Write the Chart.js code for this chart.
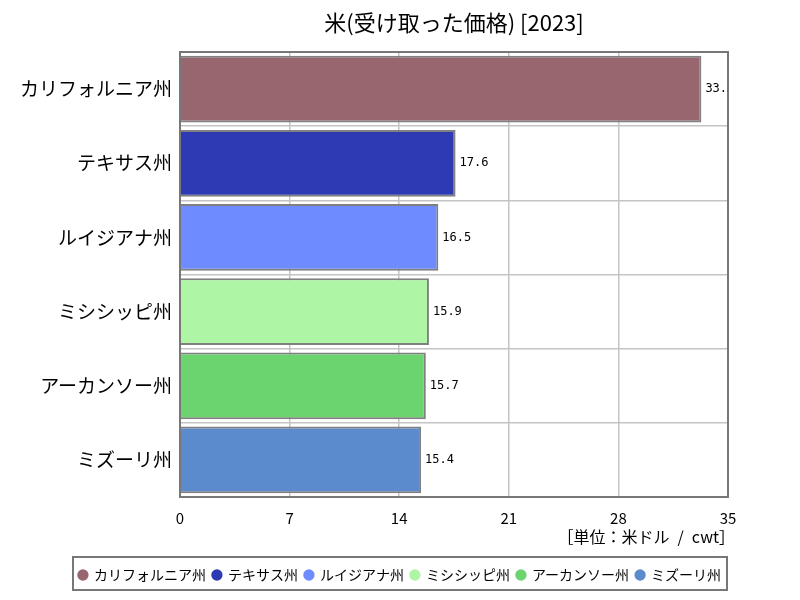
<!DOCTYPE html>
<html>
<head>
<meta charset="utf-8">
<script src="https://cdn.jsdelivr.net/npm/chart.js@4"></script>
<style>
  body { margin: 0; background: #fff; }
  #wrap { width: 800px; height: 600px; }
</style>
</head>
<body>
<div id="wrap"><canvas id="rice"></canvas></div>
<script>
var states = ['カリフォルニア州', 'テキサス州', 'ルイジアナ州', 'ミシシッピ州', 'アーカンソー州', 'ミズーリ州'];
var prices = [33.3, 17.6, 16.5, 15.9, 15.7, 15.4];
var barColors = ['#98666e', '#2d3ab3', '#6e8bff', '#aef5a5', '#6bd46f', '#5b8bcc'];
var xTicks = [0, 7, 14, 21, 28, 35];
var titleText = '米(受け取った価格) [2023]';
var unitText = '［単位：米ドル\u2002/\u2002cwt］';

var font = "'Noto Sans CJK JP', sans-serif";

// title centred over the plot area, value labels clipped to it, frames
var extras = {
  id: 'extras',
  beforeDraw(chart) {
    // centre the legend on the whole page and move it into its frame
    var l = chart.legend, h = l.height;
    l.left = 0;
    l.right = 800;
    l.top = 561;
    l.bottom = 561 + h;
  },
  afterDatasetsDraw(chart) {
    var ctx = chart.ctx, a = chart.chartArea;
    ctx.save();
    ctx.strokeStyle = '#777';
    ctx.lineWidth = 2;
    ctx.strokeRect(a.left, a.top, a.right - a.left, a.bottom - a.top);
    ctx.beginPath();
    ctx.rect(a.left, a.top, a.right - a.left, a.bottom - a.top);
    ctx.clip();
    ctx.font = "12px 'DejaVu Sans Mono', monospace";
    ctx.fillStyle = '#000';
    ctx.textBaseline = 'middle';
    chart.getDatasetMeta(0).data.forEach(function (bar, i) {
      ctx.fillText(prices[i].toFixed(1), bar.x + 4, bar.y);
    });
    ctx.restore();
  },
  afterDraw(chart) {
    var ctx = chart.ctx, a = chart.chartArea;
    ctx.save();
    ctx.fillStyle = '#000';
    ctx.textBaseline = 'middle';
    ctx.font = '22px ' + font;
    ctx.textAlign = 'center';
    ctx.fillText(titleText, (a.left + a.right) / 2, 23);
    ctx.font = '16px ' + font;
    ctx.textAlign = 'right';
    ctx.fillText(unitText, a.right + 7, 537);
    ctx.strokeStyle = '#777';
    ctx.lineWidth = 2;
    ctx.strokeRect(73, 557, 654, 33);
    ctx.restore();
  }
};

var ctx = document.getElementById('rice');
new Chart(ctx, {
  type: 'bar',
  data: {
    labels: states,
    datasets: [{
      data: prices,
      backgroundColor: barColors,
      borderColor: '#808080',
      borderWidth: 2,
      barPercentage: 0.9,
      categoryPercentage: 1
    }]
  },
  options: {
    indexAxis: 'y',
    responsive: true,
    maintainAspectRatio: false,
    animation: false,
    layout: { padding: { left: 0, right: 72, top: 52, bottom: 0 } },
    plugins: {
      title: { display: false },
      legend: {
        position: 'bottom',
        labels: {
          color: '#000',
          font: { family: font, size: 14 },
          usePointStyle: true,
          pointStyle: 'circle',
          boxWidth: 8,
          boxHeight: 8,
          padding: 7,
          generateLabels: function () {
            return states.map(function (s, i) {
              return { text: s, fillStyle: barColors[i], strokeStyle: barColors[i], lineWidth: 0, pointStyle: 'circle', index: i };
            });
          }
        }
      },
      tooltip: { enabled: false }
    },
    scales: {
      x: {
        min: 0,
        max: 35,
        afterBuildTicks: function (axis) {
          axis.ticks = xTicks.map(function (v) { return { value: v }; });
        },
        afterFit: function (axis) { axis.height = 72; },
        grid: { color: '#c4c4c4', lineWidth: 1.5, drawTicks: false },
        border: { color: '#555', width: 2 },
        ticks: { color: '#000', font: { family: font, size: 15 }, padding: 12 }
      },
      y: {
        afterFit: function (axis) { axis.width = 180; },
        grid: { color: '#c4c4c4', lineWidth: 1.5, drawTicks: false },
        border: { color: '#555', width: 2 },
        ticks: { color: '#000', font: { family: font, size: 19 }, padding: 8 }
      }
    }
  },
  plugins: [extras]
});
</script>
</body>
</html>
